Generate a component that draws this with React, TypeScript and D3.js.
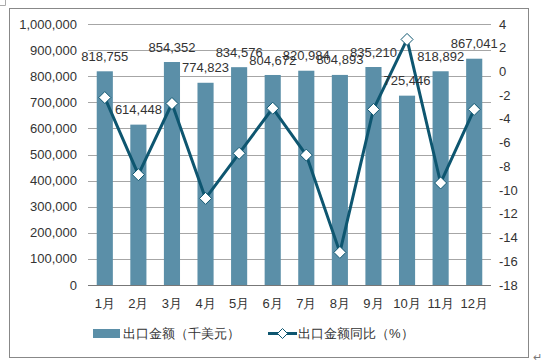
import { useEffect } from 'react';
import * as d3 from 'd3';

const months = ['1月', '2月', '3月', '4月', '5月', '6月', '7月', '8月', '9月', '10月', '11月', '12月'];
const exportValue = [818755, 614448, 854352, 774823, 834576, 804672, 820984, 804893, 835210, 725446, 818892, 867041];
const exportYoY = [-2.2, -8.7, -2.7, -10.7, -6.9, -3.1, -7.05, -15.25, -3.2, 2.7, -9.4, -3.2];
const leftTicks = [0, 100000, 200000, 300000, 400000, 500000, 600000, 700000, 800000, 900000, 1000000];
const rightTicks = [-18, -16, -14, -12, -10, -8, -6, -4, -2, 0, 2, 4];

const W = 555;
const H = 364;
const PLOT = { left: 88, right: 491, top: 24, bottom: 285 };
const BAR = '#5b8fa8';
const LINE = '#0e5670';
const TEXT = '#333333';
const FONT = '"Liberation Sans", Arial, sans-serif';

export default function App() {
  useEffect(() => {
    document.body.style.margin = '0';
  }, []);

  const x = d3.scaleBand<string>().domain(months).range([PLOT.left, PLOT.right]).paddingInner(0.52).paddingOuter(0.26);
  const yL = d3.scaleLinear().domain([0, 1000000]).range([PLOT.bottom, PLOT.top]);
  const yR = d3.scaleLinear().domain([-18, 4]).range([PLOT.bottom, PLOT.top]);
  const fmt = d3.format(',');

  const line = d3
    .line<number>()
    .x((_, i) => (x(months[i]) ?? 0) + x.bandwidth() / 2)
    .y((d) => yR(d));

  const diamond = (cx: number, cy: number, r: number) =>
    `M${cx},${cy - r}L${cx + r},${cy}L${cx},${cy + r}L${cx - r},${cy}Z`;

  return (
    <svg width={W} height={H} style={{ display: 'block', background: '#fff' }} fontFamily={FONT}>
      {/* page marks */}
      <path d="M0,5.5H5.5V0" fill="none" stroke="#aaa" strokeWidth={1} />
      <rect x={9.5} y={8.5} width={519} height={349} fill="#fff" stroke="#888" strokeWidth={1} />
      <text x={533} y={361} fontSize={11} fill="#777">↵</text>

      {/* grid */}
      {leftTicks.map((t) => (
        <line
          key={t}
          x1={PLOT.left}
          x2={PLOT.right}
          y1={Math.round(yL(t)) + 0.5}
          y2={Math.round(yL(t)) + 0.5}
          stroke={t === 0 ? '#777' : '#a6a6a6'}
          strokeWidth={1}
        />
      ))}

      {/* left ticks */}
      {leftTicks.map((t) => (
        <text key={t} x={77} y={yL(t)} dy="0.35em" textAnchor="end" fontSize={13} fill={TEXT}>
          {fmt(t)}
        </text>
      ))}
      {/* right ticks */}
      {rightTicks.map((t) => (
        <text key={t} x={499} y={yR(t)} dy="0.35em" textAnchor="start" fontSize={13} fill={TEXT}>
          {t}
        </text>
      ))}

      {/* bars */}
      {exportValue.map((v, i) => (
        <rect
          key={months[i]}
          x={x(months[i])}
          y={yL(v)}
          width={x.bandwidth()}
          height={yL(0) - yL(v)}
          fill={BAR}
        />
      ))}

      {/* line */}
      <path d={line(exportYoY) ?? ''} fill="none" stroke={LINE} strokeWidth={3} strokeLinejoin="round" />
      {exportYoY.map((v, i) => (
        <path
          key={months[i]}
          d={diamond((x(months[i]) ?? 0) + x.bandwidth() / 2, yR(v), 6)}
          fill="#fff"
          stroke={LINE}
          strokeWidth={1}
        />
      ))}

      {/* bar labels */}
      {exportValue.map((v, i) => (
        <text
          key={months[i]}
          x={(x(months[i]) ?? 0) + x.bandwidth() / 2}
          y={yL(v) - 15}
          dy="0.35em"
          textAnchor="middle"
          fontSize={13}
          fill={TEXT}
        >
          {fmt(v)}
        </text>
      ))}

      {/* month labels */}
      {months.map((m) => (
        <text
          key={m}
          x={(x(m) ?? 0) + x.bandwidth() / 2}
          y={303}
          dy="0.35em"
          textAnchor="middle"
          fontSize={13}
          fill={TEXT}
        >
          {m}
        </text>
      ))}

      {/* legend */}
      <rect x={93} y={329} width={27} height={9} fill={BAR} />
      <text x={123} y={333.5} dy="0.35em" fontSize={13} fill={TEXT}>
        出口金额（千美元）
      </text>
      <line x1={268} x2={297} y1={333.5} y2={333.5} stroke={LINE} strokeWidth={3} />
      <path d={diamond(282.5, 333.5, 5)} fill="#fff" stroke={LINE} strokeWidth={1} />
      <text x={298} y={333.5} dy="0.35em" fontSize={13} fill={TEXT}>
        出口金额同比（%）
      </text>
    </svg>
  );
}
